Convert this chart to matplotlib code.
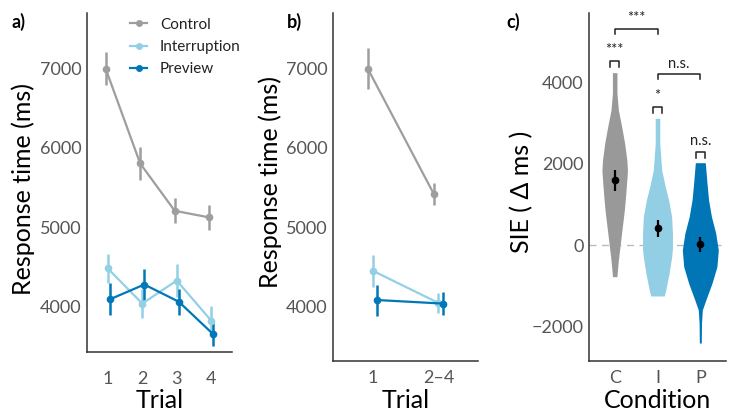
import matplotlib
matplotlib.use('Agg')
import matplotlib.pyplot as plt
from matplotlib.lines import Line2D
import numpy as np

plt.rcParams['font.family'] = ['Lato', 'DejaVu Sans']

# colours per condition
col_ctrl = '#9E9E9E'
col_int = '#93D0E6'
col_prev = '#0078B8'
col_ctrl_v = '#999999'
col_int_v = '#92CEE4'
col_prev_v = '#0076B6'

# panel a: response time per trial
trials_a = [1, 2, 3, 4]
ctrl_a = [7000, 5805, 5209, 5125]
ctrl_a_err = [210, 210, 157, 162]
int_a = [4483, 4040, 4330, 3824]
int_a_err = [185, 185, 205, 180]
prev_a = [4093, 4280, 4063, 3652]
prev_a_err = [200, 190, 165, 142]

# panel b: trial 1 vs trials 2-4
trials_b = ['1', '2–4']
ctrl_b = [6995, 5420]
ctrl_b_err = [258, 140]
int_b = [4455, 4048]
int_b_err = [200, 130]
prev_b = [4085, 4040]
prev_b_err = [195, 140]

# panel c: SIE violins (outline read as y / half width)
cond = ['C', 'I', 'P']
vio_c_y = [-782, -370, 0, 453, 864, 1276, 1700, 1852, 2099, 2510, 2922, 3333, 3745, 4255]
vio_c_w = [0.051, 0.086, 0.128, 0.179, 0.226, 0.26, 0.29, 0.298, 0.284, 0.233, 0.163, 0.086, 0.053, 0.053]
vio_i_y = [-1259, -1110, -690, -300, -100, 300, 700, 1111, 1440, 1852, 2510, 3128]
vio_i_w = [0.158, 0.193, 0.272, 0.33, 0.349, 0.349, 0.33, 0.26, 0.181, 0.098, 0.053, 0.053]
vio_p_y = [-2420, -1933, -1605, -1358, -946, -535, -123, 290, 700, 1111, 1530, 2032]
vio_p_w = [0.023, 0.028, 0.047, 0.128, 0.272, 0.388, 0.42, 0.36, 0.26, 0.193, 0.156, 0.116]
sie_mean = [1600, 412, 20]
sie_err = [255, 205, 185]

W, H = 733, 417
fig = plt.figure(figsize=(W / 100, H / 100), dpi=100)


def px_axes(left, right, top, bottom):
    return fig.add_axes([left / W, (H - bottom) / H, (right - left) / W, (bottom - top) / H])


def style(ax, xpad):
    for s in ['top', 'right']:
        ax.spines[s].set_visible(False)
    for s in ['left', 'bottom']:
        ax.spines[s].set_color('#333333')
        ax.spines[s].set_linewidth(1.1)
    ax.tick_params(length=0, labelsize=13, labelcolor='#555555', pad=4)
    ax.tick_params(axis='x', pad=xpad)


def rt_series(ax, x, y, err, colour):
    ax.errorbar(x, y, yerr=err, color=colour, lw=1.6, elinewidth=1.8,
                marker='o', ms=4.5, capsize=0)


ax1 = px_axes(87, 232, 13, 352)
ax2 = px_axes(333, 478, 13, 361)
ax3 = px_axes(589, 726, 13, 361)

# ---- panel a
xa = np.array(trials_a, dtype=float)
dodge = 0.06
rt_series(ax1, xa - dodge, ctrl_a, ctrl_a_err, col_ctrl)
rt_series(ax1, xa, int_a, int_a_err, col_int)
rt_series(ax1, xa + dodge, prev_a, prev_a_err, col_prev)
ax1.set_xlim(0.4, 4.6)
ax1.set_ylim(3430, 7700)
ax1.set_xticks(trials_a)
ax1.set_yticks([4000, 5000, 6000, 7000])
ax1.set_xlabel('Trial', fontsize=18, va='top')
ax1.set_ylabel('Response time (ms)', fontsize=18, va='center')
ax1.xaxis.set_label_coords(0.5, -0.109)
ax1.yaxis.set_label_coords(-0.438, 0.48)
style(ax1, 13.7)
handles = [Line2D([], [], color=c, lw=1.6, marker='o', ms=4) for c in [col_ctrl, col_int, col_prev]]
ax1.legend(handles, ['Control', 'Interruption', 'Preview'], loc='upper left',
           bbox_to_anchor=(0.245, 1.009), frameon=False, fontsize=11, borderpad=0,
           handlelength=1.1, handletextpad=0.85, labelspacing=0.55, labelcolor='#222222')

# ---- panel b
xb = np.arange(1, len(trials_b) + 1, dtype=float)
dodge_b = 0.07
rt_series(ax2, xb - dodge_b, ctrl_b, ctrl_b_err, col_ctrl)
rt_series(ax2, xb, int_b, int_b_err, col_int)
rt_series(ax2, xb + dodge_b, prev_b, prev_b_err, col_prev)
ax2.set_xlim(0.4, 2.6)
ax2.set_ylim(3317, 7700)
ax2.set_xticks(xb)
ax2.set_xticklabels(trials_b)
ax2.set_yticks([4000, 5000, 6000, 7000])
ax2.set_xlabel('Trial', fontsize=18, va='top')
ax2.set_ylabel('Response time (ms)', fontsize=18, va='center')
ax2.xaxis.set_label_coords(0.5, -0.080)
ax2.yaxis.set_label_coords(-0.434, 0.514)
style(ax2, 6.5)

# ---- panel c
xc = np.arange(1, len(cond) + 1, dtype=float)
ax3.axhline(0, color='#BBBBBB', lw=1, ls=(0, (5, 4)), zorder=0)
for xi, vy, vw, colour in zip(xc, [vio_c_y, vio_i_y, vio_p_y], [vio_c_w, vio_i_w, vio_p_w],
                              [col_ctrl_v, col_int_v, col_prev_v]):
    vy = np.array(vy)
    vw = np.array(vw)
    ax3.fill_betweenx(vy, xi - vw, xi + vw, color=colour, lw=0, zorder=1)
ax3.errorbar(xc, sie_mean, yerr=sie_err, fmt='o', color='black', ms=4.5,
             elinewidth=1.6, capsize=0, zorder=3)
ax3.set_xlim(0.4, 3.6)
ax3.set_ylim(-2864, 5728)
ax3.set_xticks(xc)
ax3.set_xticklabels(cond)
ax3.set_yticks([-2000, 0, 2000, 4000])
ax3.set_yticklabels(['\u22122000', '0', '2000', '4000'])
ax3.set_xlabel('Condition', fontsize=18, va='top')
ax3.set_ylabel('SIE ( Δ ms )', fontsize=18, va='center')
ax3.xaxis.set_label_coords(0.5, -0.080)
ax3.yaxis.set_label_coords(-0.489, 0.486)
style(ax3, 6.5)


def bracket(ax, x0, x1, y, drop, label, ty):
    ax.plot([x0, x0, x1, x1], [y - drop, y, y, y - drop], color='#222222', lw=1.1)
    ax.text((x0 + x1) / 2, ty, label, ha='center', va='bottom', fontsize=10.5, color='#222222')


bracket(ax3, 1, 2, 5326, 120, '***', 5420)
bracket(ax3, 2, 3, 4222, 120, 'n.s.', 4300)
bracket(ax3, 0.9, 1.1, 4543, 140, '***', 4640)
bracket(ax3, 1.9, 2.1, 3407, 140, '*', 3500)
bracket(ax3, 2.9, 3.1, 2300, 140, 'n.s.', 2390)

# panel letters
for x, lab in [(12, 'a)'), (287, 'b)'), (506, 'c)')]:
    fig.text(x / W, 1 - 22 / H, lab, fontsize=13, fontweight='bold', va='center', ha='left')

fig.savefig('out.png', dpi=100)
